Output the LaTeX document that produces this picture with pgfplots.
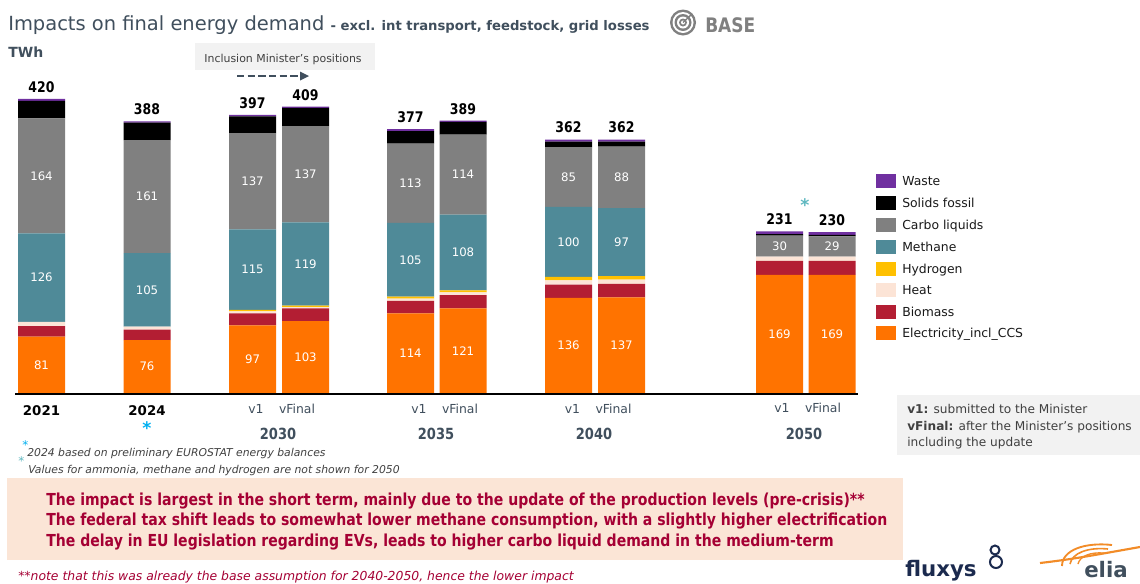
\documentclass[border=0pt]{standalone}
\usepackage{fontspec}
\setmainfont{DejaVu Sans}
\newfontfamily\fN{DejaVu Sans}[FakeStretch=0.85]
\usepackage{pgfplots}
\pgfplotsset{compat=1.18}
\usetikzlibrary{arrows.meta}
\definecolor{celec}{HTML}{FF7300}
\definecolor{cbio}{HTML}{B31E33}
\definecolor{cheat}{HTML}{FCE4D6}
\definecolor{chyd}{HTML}{FFC000}
\definecolor{cmeth}{HTML}{4F8A98}
\definecolor{ccarbo}{HTML}{808080}
\definecolor{csolid}{HTML}{000000}
\definecolor{cwaste}{HTML}{7030A0}
\definecolor{slate}{HTML}{404F5D}
\definecolor{txtgrey}{HTML}{404040}
\definecolor{boxgrey}{HTML}{F2F2F2}
\definecolor{peach}{HTML}{FBE5D6}
\definecolor{redtxt}{HTML}{A50034}
\definecolor{starblue}{HTML}{00B0F0}
\definecolor{starteal}{HTML}{5FB8C0}
\definecolor{navy}{HTML}{1B2A4E}
\definecolor{eliaor}{HTML}{F28C28}
\newcommand\fz[1]{\fontsize{#1}{#1}\selectfont}

\begin{document}
% x = bar centre in px, segments in TWh (bottom to top)
\pgfplotstableread{
x     Elec Bio Heat H2 CH4 Carbo Solid Waste
41.5  81   15  6    0  126 164   25    3
147   76   15  4    0  105 161   25    2
252.5 97   17  3    2  115 137   24    2
305.5 103  18  2    2  119 137   26    2
410.5 114  18  3    3  105 113   18    3
463   121  19  4    3  108 114   18    2
568.5 136  19  6    5  100 85    8     3
621.5 137  19  6    5  97  88    7     3
779.5 169  20  6    0  0   30    2     4
832   169  20  6    0  0   29    2     4
}\energy
% labels inside the bars (y = middle of segment)
\pgfplotstableread{
x     y     v
41.5  40.5  81
147   38    76
252.5 48.5  97
305.5 51.5  103
410.5 57    114
463   60.5  121
568.5 68    136
621.5 68.5  137
779.5 84.5  169
832   84.5  169
41.5  165   126
147   147.5 105
252.5 176.5 115
305.5 184.5 119
410.5 190.5 105
463   201   108
568.5 216   100
621.5 215.5 97
41.5  310   164
147   280.5 161
252.5 302.5 137
305.5 312.5 137
410.5 299.5 113
463   312   114
568.5 308.5 85
621.5 308   88
779.5 210   30
832   209.5 29
}\inlabels
\pgfplotstableread{
x     y    v
41.5  420  420
147   388  388
252.5 397  397
305.5 409  409
410.5 377  377
463   389  389
568.5 362  362
621.5 362  362
779.5 231  231
832   230  230
}\totals

\begin{tikzpicture}[x=0.75pt,y=0.75pt]
\fill[white] (0,0) rectangle (1140,-583);

\begin{axis}[at={(0pt,-294.98pt)}, anchor=south west, scale only axis,
  width=855pt, height=294.98pt, xmin=0, xmax=1140, ymin=0, ymax=561,
  hide axis, clip=false, ybar stacked, bar width=47]
\addplot[fill=celec,draw=none] table[x=x,y=Elec]{\energy};
\addplot[fill=cbio,draw=none] table[x=x,y=Bio]{\energy};
\addplot[fill=cheat,draw=none] table[x=x,y=Heat]{\energy};
\addplot[fill=chyd,draw=none] table[x=x,y=H2]{\energy};
\addplot[fill=cmeth,draw=none] table[x=x,y=CH4]{\energy};
\addplot[fill=ccarbo,draw=none] table[x=x,y=Carbo]{\energy};
\addplot[fill=csolid,draw=none] table[x=x,y=Solid]{\energy};
\addplot[fill=cwaste,draw=none] table[x=x,y=Waste]{\energy};
\end{axis}

\begin{axis}[at={(0pt,-294.98pt)}, anchor=south west, scale only axis,
  width=855pt, height=294.98pt, xmin=0, xmax=1140, ymin=0, ymax=561,
  hide axis, clip=false]
\addplot[draw=none, mark=none, nodes near coords, point meta=explicit symbolic,
  every node near coord/.append style={anchor=center, text=white, font=\fz{8.8}}]
  table[x=x,y=y,meta=v]{\inlabels};
\addplot[draw=none, mark=none, nodes near coords, point meta=explicit symbolic,
  every node near coord/.append style={anchor=base, inner sep=0pt, yshift=4.9pt,
    text=black, font=\fN\bfseries\fz{11}}]
  table[x=x,y=y,meta=v]{\totals};
\end{axis}

\begin{scope}[y=-0.75pt]
% baseline
\draw[black, line width=2pt] (15,394) -- (858,394);

% title
\node[anchor=base west, inner sep=0, text=slate] at (8,30)
  {\fz{14.6}Impacts on final energy demand \fz{9.9}\bfseries- excl. int transport, feedstock, grid losses};
% BASE logo
\fill[ccarbo] (683,22.5) circle (13);
\fill[white] (683,22.5) circle (10.5);
\fill[ccarbo] (683,22.5) circle (8.5);
\fill[white] (683,22.5) circle (6);
\fill[ccarbo] (683,22.5) circle (4);
\fill[white] (683,22.5) circle (2);
\draw[ccarbo, line width=1pt] (683,22.5) -- (692,14);
\node[anchor=base west, inner sep=0, text=ccarbo] at (705,32) {\fN\bfseries\fz{15}BASE};
\node[anchor=base west, inner sep=0, text=slate] at (8,57) {\bfseries\fz{10.5}TWh};

% inclusion box
\fill[boxgrey] (195,43) rectangle (375,70);
\node[anchor=base, inner sep=0, text=txtgrey] at (283,62) {\fz{8.2}Inclusion Minister's positions};
\draw[slate, line width=1.9pt, dash pattern=on 5.5pt off 2.5pt] (237,76) -- (300,76);
\fill[slate] (300,71.5) -- (309,76) -- (300,80.5) -- cycle;

% x labels
\node[anchor=base, inner sep=0] at (41.5,415) {\bfseries\fz{10}2021};
\node[anchor=base, inner sep=0] at (147,415) {\bfseries\fz{10}2024};
\foreach \a/\b/\yy in {256/297/413, 419/460/413, 572.5/613.5/413, 782/823/412}{
  \node[anchor=base, inner sep=0, text=slate] at (\a,\yy) {\fz{9.3}v1};
  \node[anchor=base, inner sep=0, text=slate] at (\b,\yy) {\fz{9.3}vFinal};
}
\foreach \xx/\t in {278/2030, 436/2035, 594/2040, 804/2050}{
  \node[anchor=base, inner sep=0, text=slate] at (\xx,439.5) {\fN\bfseries\fz{11.5}\t};
}
\node[text=starblue, inner sep=0] at (147,428) {\bfseries\fz{13}*};
\node[text=starteal, inner sep=0] at (805,205) {\bfseries\fz{13}*};

% legend
\foreach \c/\t/\yy in {cwaste/Waste/181, csolid/Solids fossil/203, ccarbo/Carbo liquids/225,
  cmeth/Methane/246.5, chyd/Hydrogen/268.5, cheat/Heat/290, cbio/Biomass/311.5,
  celec/Electricity\_incl\_CCS/333}{
  \fill[\c] (876,\yy-7) rectangle (896,\yy+7);
  \node[anchor=base west, inner sep=0, text=black!90] at (902,\yy+4.5) {\fz{9.3}\t};
}

% note box
\fill[boxgrey] (897,395) rectangle (1140,455);
\node[anchor=base west, inner sep=0, text=txtgrey] at (907,413.5) {\fz{9.1}\textbf{v1:} submitted to the Minister};
\node[anchor=base west, inner sep=0, text=txtgrey] at (907,430) {\fz{9.1}\textbf{vFinal:} after the Minister's positions};
\node[anchor=base west, inner sep=0, text=txtgrey] at (907,446) {\fz{9.1}including the update};

% footnotes
\node[anchor=base west, inner sep=0, text=starblue] at (22,449) {\fz{9}*};
\node[anchor=base west, inner sep=0, text=txtgrey] at (27,456.5) {\itshape\fz{8.1}2024 based on preliminary EUROSTAT energy balances};
\node[anchor=base west, inner sep=0, text=starteal] at (18,465) {\fz{9}*};
\node[anchor=base west, inner sep=0, text=txtgrey] at (28,473) {\itshape\fz{8.1}Values for ammonia, methane and hydrogen are not shown for 2050};

% conclusion box
\fill[peach] (7,478) rectangle (903,560);
\node[anchor=base west, inner sep=0, text=redtxt] at (46,505.5) {\fN\bfseries\fz{12.4}The impact is largest in the short term, mainly due to the update of the production levels (pre-crisis)**};
\node[anchor=base west, inner sep=0, text=redtxt] at (46,525.5) {\fN\bfseries\fz{12.4}The federal tax shift leads to somewhat lower methane consumption, with a slightly higher electrification};
\node[anchor=base west, inner sep=0, text=redtxt] at (46,546) {\fN\bfseries\fz{12.4}The delay in EU legislation regarding EVs, leads to higher carbo liquid demand in the medium-term};
\node[anchor=base west, inner sep=0, text=redtxt] at (18,580.5) {\itshape\fz{9.3}**note that this was already the base assumption for 2040-2050, hence the lower impact};

% logos
\node[anchor=base west, inner sep=0, text=navy] at (905,576) {\bfseries\fz{16}fluxys};
\draw[navy, line width=1.5pt] (995,550) circle (4.5);
\draw[navy, line width=1.5pt] (996,562) circle (6);
\draw[eliaor, line width=1.6pt] (1040,563) .. controls (1075,559) and (1100,554) .. (1140,547);
\draw[eliaor, line width=1.4pt] (1062,566) .. controls (1062,550) and (1085,542) .. (1112,545);
\draw[eliaor, line width=1.2pt] (1070,564) .. controls (1072,553) and (1088,547) .. (1108,549);
\draw[eliaor, line width=1pt] (1078,564) .. controls (1080,556) and (1090,552) .. (1104,553);
\node[anchor=base west, inner sep=0, text=slate] at (1084,577) {\bfseries\fz{16}elia};
\end{scope}

\pgfresetboundingbox
\path (0,0) rectangle (1140,-583);
\end{tikzpicture}
\end{document}
